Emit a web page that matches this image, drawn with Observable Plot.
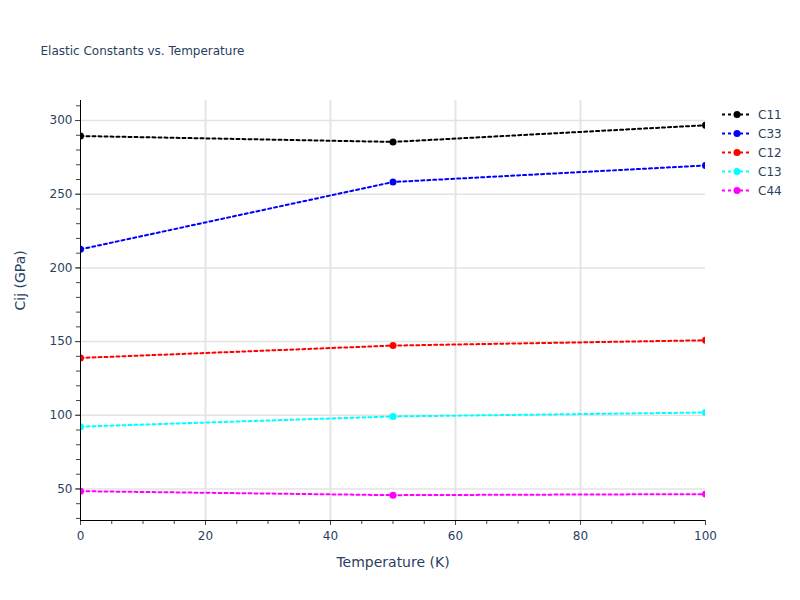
<!DOCTYPE html>
<html>
<head>
<meta charset="utf-8">
<script src="https://cdn.jsdelivr.net/npm/d3@7"></script>
<script src="https://cdn.jsdelivr.net/npm/@observablehq/plot@0.6"></script>
<style>
  html, body { margin: 0; padding: 0; background: #fff; }
  #wrap { position: relative; width: 800px; height: 600px; font-family: "DejaVu Sans", Verdana, sans-serif; }
  #legend { position: absolute; left: 0; top: 0; }
</style>
</head>
<body>
<div id="wrap"></div>
<script>
const temperatures = [0, 50, 100];
const seriesNames = ["C11", "C33", "C12", "C13", "C44"];
const seriesColors = ["black", "blue", "red", "cyan", "magenta"];
const c11 = [289.5, 285.5, 296.8];
const c33 = [212.6, 258.3, 269.5];
const c12 = [138.9, 147.3, 150.9];
const c13 = [92.3, 99.2, 101.9];
const c44 = [48.5, 45.8, 46.5];
const yTicks = [50, 100, 150, 200, 250, 300];
const xTicks = [0, 20, 40, 60, 80, 100];
const titleText = "Elastic Constants vs. Temperature";
const xLabel = "Temperature (K)";
const yLabel = "Cij (GPa)";

const valuesBySeries = [c11, c33, c12, c13, c44];
const data = [];
seriesNames.forEach((s, i) => {
  temperatures.forEach((t, j) => data.push({series: s, t, v: valuesBySeries[i][j]}));
});

const yDomain = [28.6, 313.6];
const textColor = "#2a3f5f";

const chart = Plot.plot({
  width: 800,
  height: 600,
  marginLeft: 80,
  marginRight: 95,
  marginTop: 100,
  marginBottom: 80,
  style: {fontFamily: "'DejaVu Sans', Verdana, sans-serif", fontSize: "12px", color: textColor, background: "white"},
  x: {domain: [0, 100]},
  y: {domain: yDomain},
  color: {domain: seriesNames, range: seriesColors},
  marks: [
    Plot.gridX(xTicks.filter(d => d > 0 && d < 100), {stroke: "#e5e5e5", strokeOpacity: 1, strokeWidth: 2}),
    Plot.gridY(yTicks, {stroke: "#e3e3e3", strokeOpacity: 1, strokeWidth: 1.5}),
    Plot.axisX(d3.range(0, 101, 5), {tickSize: 4, text: null, stroke: "#444", label: null}),
    Plot.axisX(xTicks, {tickSize: 5, tickPadding: 6, stroke: "#444", fill: textColor, label: null}),
    Plot.axisY(d3.range(30, 311, 10), {tickSize: 4, text: null, stroke: "#444", label: null}),
    Plot.axisY(yTicks, {tickSize: 5, tickPadding: 3, stroke: "#444", fill: textColor, label: null}),
    Plot.line(data, {x: "t", y: "v", z: "series", stroke: "series", strokeWidth: 2, strokeDasharray: "3,3", clip: true}),
    Plot.dot(data, {x: "t", y: "v", fill: "series", r: 3.5, clip: true}),
    Plot.ruleY([yDomain[0]], {stroke: "black", strokeWidth: 1}),
    Plot.ruleX([0], {stroke: "black", strokeWidth: 1}),
    Plot.text([xLabel], {frameAnchor: "bottom", dy: 46, fontSize: 14, fill: textColor, text: d => d}),
    Plot.text([yLabel], {frameAnchor: "left", dx: -60, rotate: -90, fontSize: 14, fill: textColor, text: d => d}),
    Plot.text([titleText], {frameAnchor: "top-left", dx: -40, dy: -54, textAnchor: "start", fontSize: 12, fill: textColor, text: d => d})
  ]
});
document.getElementById("wrap").appendChild(chart);

// Legend
const legend = d3.select("#wrap").append("svg")
  .attr("id", "legend").attr("width", 800).attr("height", 600)
  .style("font-family", "'DejaVu Sans', Verdana, sans-serif");
seriesNames.forEach((s, i) => {
  const y = 114.5 + i * 19;
  const g = legend.append("g");
  g.append("line").attr("x1", 722).attr("x2", 751).attr("y1", y).attr("y2", y)
    .attr("stroke", seriesColors[i]).attr("stroke-width", 2).attr("stroke-dasharray", "3,3");
  g.append("circle").attr("cx", 737).attr("cy", y).attr("r", 3.5).attr("fill", seriesColors[i]);
  g.append("text").attr("x", 758).attr("y", y).attr("dy", "0.35em").attr("font-size", 12)
    .attr("fill", textColor).text(s);
});
</script>
</body>
</html>
